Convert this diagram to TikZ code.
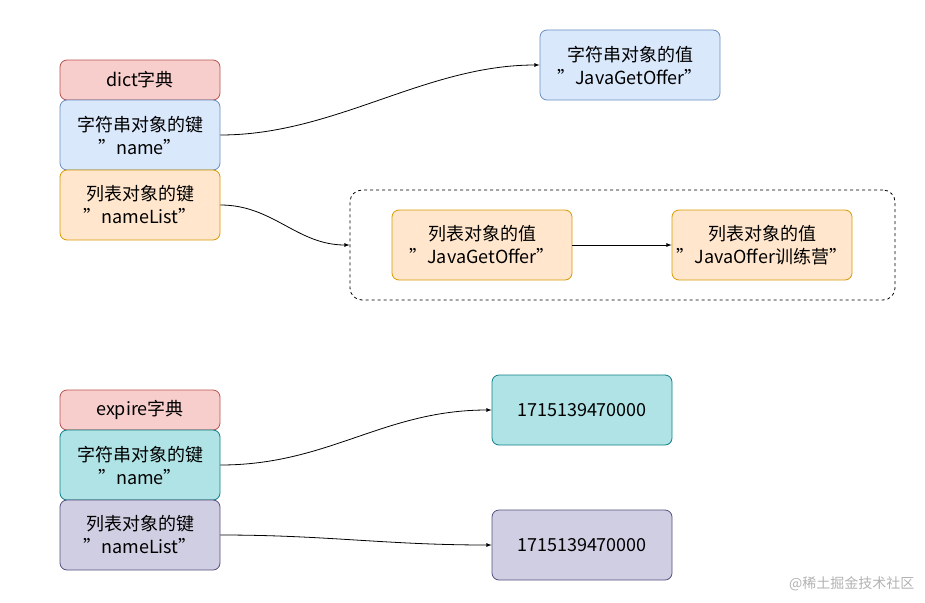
\documentclass[tikz,border=0pt]{standalone}
\usepackage{fontspec}
\setmainfont{Noto Sans CJK SC}
\begin{document}
\begin{tikzpicture}[x=1pt,y=-1pt,
 box/.style={draw,rounded corners=7pt,line width=0.8pt,align=center,inner sep=0pt,font=\fontsize{18}{23}\selectfont},
 pink/.style={fill={rgb,255:red,248;green,206;blue,204},draw={rgb,255:red,184;green,84;blue,80}},
 blue/.style={fill={rgb,255:red,218;green,232;blue,252},draw={rgb,255:red,108;green,142;blue,191}},
 orange/.style={fill={rgb,255:red,255;green,230;blue,204},draw={rgb,255:red,215;green,155;blue,0}},
 teal/.style={fill={rgb,255:red,176;green,227;blue,230},draw={rgb,255:red,14;green,128;blue,136}},
 purple/.style={fill={rgb,255:red,208;green,206;blue,226},draw={rgb,255:red,86;green,81;blue,126}},
 conn/.style={-latex,line width=0.8pt}]
\useasboundingbox (0,0) rectangle (925,602);
\node[box,pink,minimum width=160pt,minimum height=40pt] (d) at (140,80) {dict字典};
\node[box,blue,minimum width=160pt,minimum height=70pt] (k1) at (140,135) {字符串对象的键\\"name"};
\node[box,orange,minimum width=160pt,minimum height=70pt] (k2) at (140,205) {列表对象的键\\"nameList"};
\node[box,blue,minimum width=180pt,minimum height=70pt] (v1) at (630,65) {字符串对象的值\\"JavaGetOffer"};
\node[draw,dashed,rounded corners=12pt,line width=0.8pt,minimum width=545pt,minimum height=110pt,inner sep=0pt] (c) at (622.5,245) {};
\node[box,orange,minimum width=180pt,minimum height=70pt] (l1) at (482,245) {列表对象的值\\"JavaGetOffer"};
\node[box,orange,minimum width=180pt,minimum height=70pt] (l2) at (762,245) {列表对象的值\\"JavaOffer训练营"};
\node[box,pink,minimum width=160pt,minimum height=40pt] (e) at (140,410) {expire字典};
\node[box,teal,minimum width=160pt,minimum height=70pt] (k3) at (140,465) {字符串对象的键\\"name"};
\node[box,purple,minimum width=160pt,minimum height=70pt] (k4) at (140,535) {列表对象的键\\"nameList"};
\node[box,teal,minimum width=180pt,minimum height=70pt] (t1) at (582,410) {1715139470000};
\node[box,purple,minimum width=180pt,minimum height=70pt] (t2) at (582,545) {1715139470000};
\draw[conn] (k1.east) to[out=0,in=180,looseness=0.9] (v1.west);
\draw[conn] (k2.east) to[out=0,in=180] (c.west);
\draw[conn] (l1.east) -- (l2.west);
\draw[conn] (k3.east) to[out=0,in=180] (t1.west);
\draw[conn] (k4.east) to[out=0,in=180] (t2.west);
\node[text=gray!60,font=\fontsize{14}{16}\selectfont,anchor=east] (w) at (918,584) {@稀土掘金技术社区};
\end{tikzpicture}
\end{document}
